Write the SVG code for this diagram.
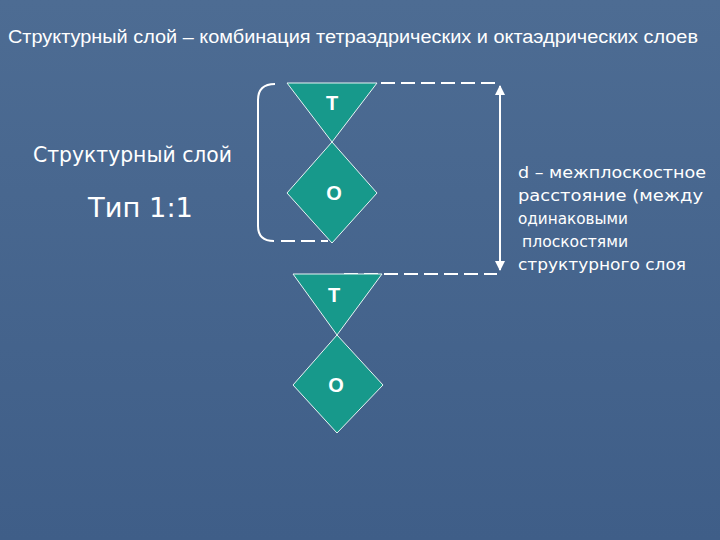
<svg xmlns="http://www.w3.org/2000/svg" width="720" height="540" viewBox="0 0 720 540">
<style>
.t{fill:#ffffff;font-family:"DejaVu Sans","Liberation Sans",sans-serif}
.shape{fill:#17998b;stroke:#e8f4f4;stroke-width:1}
.lab{fill:#ffffff;font-family:"Liberation Sans",Arial,sans-serif;font-weight:bold;font-size:20px;text-anchor:middle}
.dash{fill:none;stroke:#ffffff;stroke-width:2;stroke-dasharray:14 6}
.line{fill:none;stroke:#ffffff;stroke-width:2}
</style>
<defs>
<linearGradient id="bg" x1="0" y1="0" x2="0" y2="1">
<stop offset="0" stop-color="#4d6c93"/>
<stop offset="1" stop-color="#3f5e88"/>
</linearGradient>
<marker id="ah" viewBox="0 0 10 10" refX="9" refY="5" markerWidth="5" markerHeight="5" orient="auto-start-reverse">
<path d="M0,0 L10,5 L0,10 z" fill="#ffffff"/>
</marker>
</defs>
<rect width="720" height="540" fill="url(#bg)"/>
<text x="8" y="43" fill="#ffffff" font-family="'Liberation Sans', Arial, sans-serif" font-size="18" textLength="690" lengthAdjust="spacingAndGlyphs">Структурный слой – комбинация тетраэдрических и октаэдрических слоев</text>
<text class="t" x="33" y="162" font-size="21" textLength="199" lengthAdjust="spacingAndGlyphs">Структурный слой</text>
<text class="t" x="88" y="217" font-size="26" textLength="105" lengthAdjust="spacingAndGlyphs">Тип 1:1</text>
<g id="connectors">
<path class="line" d="M275,84 Q258,84 258,100 L258,226 Q258,241 274,241"/>
<path class="dash" d="M281,241 L328,241"/>
<path class="dash" d="M381,83 L498,83"/>
<path class="dash" d="M344,274 L497,274"/>
<path class="line" d="M500,86 L500,270" marker-start="url(#ah)" marker-end="url(#ah)"/>
</g>
<g id="t1"><polygon class="shape" points="287,83 377,83 332,142"/><text class="lab" x="332" y="110">Т</text></g>
<g id="o1"><polygon class="shape" points="332,142 377,193 332,243 287,193"/><text class="lab" x="334" y="200">О</text></g>
<g id="t2"><polygon class="shape" points="293,274 382,274 337,335"/><text class="lab" x="334" y="302">Т</text></g>
<g id="o2"><polygon class="shape" points="337,335 383,385 337,433 293,385"/><text class="lab" x="336" y="392">О</text></g>
<g id="desc" class="t" font-size="16">
<text x="518" y="178" textLength="188" lengthAdjust="spacingAndGlyphs">d – межплоскостное</text>
<text x="518" y="201" textLength="185" lengthAdjust="spacingAndGlyphs">расстояние (между</text>
<text x="518" y="224" textLength="110" lengthAdjust="spacingAndGlyphs">одинаковыми</text>
<text x="522" y="247" textLength="106" lengthAdjust="spacingAndGlyphs">плоскостями</text>
<text x="518" y="270" textLength="168" lengthAdjust="spacingAndGlyphs">структурного слоя</text>
</g>
</svg>
